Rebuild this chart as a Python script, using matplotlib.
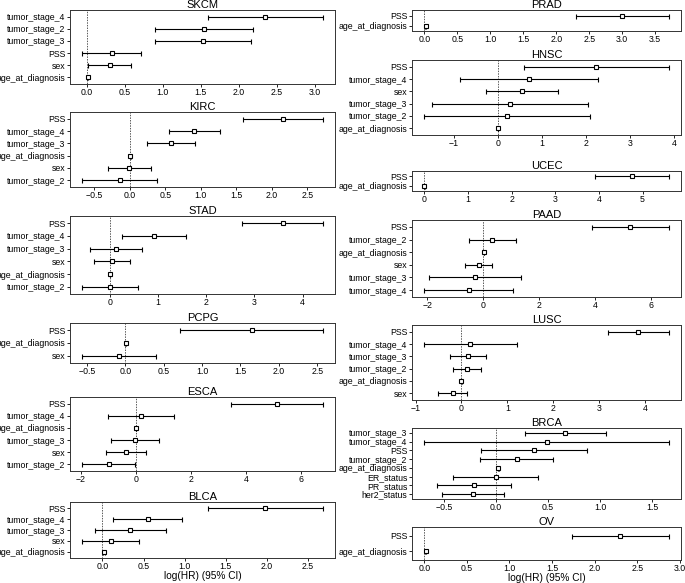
import matplotlib
matplotlib.use("Agg")
import matplotlib.pyplot as plt
from matplotlib.ticker import MultipleLocator

plt.rcParams['font.family'] = ['Liberation Sans', 'DejaVu Sans']

# Cox model coefficients (log HR) and 95% CI half-width, listed top to bottom

skcm_vars = ["tumor_stage_4", "tumor_stage_2", "tumor_stage_3", "PSS", "sex", "age_at_diagnosis"]
skcm_coef = [2.35, 1.545, 1.53, 0.326, 0.30, 0.013]
skcm_err = [0.76, 0.645, 0.63, 0.39, 0.287, 0.006]

kirc_vars = ["PSS", "tumor_stage_4", "tumor_stage_3", "age_at_diagnosis", "sex", "tumor_stage_2"]
kirc_coef = [2.155, 0.91, 0.585, 0.01, -0.005, -0.14]
kirc_err = [0.565, 0.355, 0.335, 0.005, 0.30, 0.53]

stad_vars = ["PSS", "tumor_stage_4", "tumor_stage_3", "sex", "age_at_diagnosis", "tumor_stage_2"]
stad_coef = [3.585, 0.925, 0.135, 0.05, 0.008, 0.005]
stad_err = [0.835, 0.665, 0.535, 0.37, 0.004, 0.58]

pcpg_vars = ["PSS", "age_at_diagnosis", "sex"]
pcpg_coef = [1.645, 0.003, -0.085]
pcpg_err = [0.93, 0.004, 0.48]

esca_vars = ["PSS", "tumor_stage_4", "age_at_diagnosis", "tumor_stage_3", "sex", "tumor_stage_2"]
esca_coef = [5.125, 0.19, 0.01, -0.04, -0.37, -0.99]
esca_err = [1.675, 1.2, 0.006, 0.88, 0.73, 0.97]

blca_vars = ["PSS", "tumor_stage_4", "tumor_stage_3", "sex", "age_at_diagnosis"]
blca_coef = [1.98, 0.552, 0.34, 0.10, 0.02]
blca_err = [0.70, 0.42, 0.428, 0.348, 0.008]

prad_vars = ["PSS", "age_at_diagnosis"]
prad_coef = [3.0, 0.02]
prad_err = [0.705, 0.01]

hnsc_vars = ["PSS", "tumor_stage_4", "sex", "tumor_stage_3", "tumor_stage_2", "age_at_diagnosis"]
hnsc_coef = [2.23, 0.70, 0.55, 0.265, 0.205, -0.005]
hnsc_err = [1.645, 1.56, 0.82, 1.765, 1.885, 0.006]

ucec_vars = ["PSS", "age_at_diagnosis"]
ucec_coef = [4.75, 0.005]
ucec_err = [0.85, 0.006]

paad_vars = ["PSS", "tumor_stage_2", "age_at_diagnosis", "sex", "tumor_stage_3", "tumor_stage_4"]
paad_coef = [5.255, 0.325, 0.02, -0.17, -0.295, -0.52]
paad_err = [1.375, 0.84, 0.006, 0.49, 1.635, 1.59]

lusc_vars = ["PSS", "tumor_stage_4", "tumor_stage_3", "tumor_stage_2", "age_at_diagnosis", "sex"]
lusc_coef = [3.85, 0.195, 0.135, 0.12, 0.0, -0.19]
lusc_err = [0.665, 1.005, 0.39, 0.30, 0.005, 0.31]

brca_vars = ["tumor_stage_3", "tumor_stage_4", "PSS", "tumor_stage_2", "age_at_diagnosis",
             "ER_status", "PR_status", "her2_status"]
brca_coef = [0.665, 0.485, 0.365, 0.2, 0.02, -0.005, -0.215, -0.22]
brca_err = [0.39, 1.175, 0.51, 0.35, 0.005, 0.41, 0.355, 0.30]

ov_vars = ["PSS", "age_at_diagnosis"]
ov_coef = [2.30, 0.016]
ov_err = [0.57, 0.006]

W, H = 685, 583
fig = plt.figure(figsize=(W / 100, H / 100), dpi=100)

# (title, vars, coef, err, [left, top, right, bottom] in px, tick step, xlabel?)
panels = [
    ("SKCM", skcm_vars, skcm_coef, skcm_err, [70, 10, 335, 84], 0.5, False),
    ("KIRC", kirc_vars, kirc_coef, kirc_err, [70, 112, 335, 187], 0.5, False),
    ("STAD", stad_vars, stad_coef, stad_err, [70, 216, 335, 294], 1, False),
    ("PCPG", pcpg_vars, pcpg_coef, pcpg_err, [70, 323, 335, 363], 0.5, False),
    ("ESCA", esca_vars, esca_coef, esca_err, [70, 397, 335, 471], 2, False),
    ("BLCA", blca_vars, blca_coef, blca_err, [70, 502, 335, 558], 0.5, True),
    ("PRAD", prad_vars, prad_coef, prad_err, [412, 10, 681, 31], 0.5, False),
    ("HNSC", hnsc_vars, hnsc_coef, hnsc_err, [412, 60, 681, 135], 1, False),
    ("UCEC", ucec_vars, ucec_coef, ucec_err, [412, 171, 681, 191], 1, False),
    ("PAAD", paad_vars, paad_coef, paad_err, [412, 220, 681, 297], 2, False),
    ("LUSC", lusc_vars, lusc_coef, lusc_err, [412, 325, 681, 400], 1, False),
    ("BRCA", brca_vars, brca_coef, brca_err, [412, 428, 681, 499], 0.5, False),
    ("OV", ov_vars, ov_coef, ov_err, [412, 527, 681, 560], 0.5, True),
]

for title, names, coef, err, box, step, with_label in panels:
    l, t, r, b = box
    ax = fig.add_axes([l / W, 1 - b / H, (r - l) / W, (b - t) / H])
    n = len(names)
    ypos = [n - 1 - i for i in range(n)]
    ax.errorbar(coef, ypos, xerr=err, fmt='s', color='k', markerfacecolor='white',
                markersize=3.2, markeredgewidth=0.8, elinewidth=0.8,
                capsize=1.8, capthick=0.8)
    ax.vlines(0, -2, n + 1, linestyles=(0, (1.5, 1.2)), linewidths=0.7, alpha=0.65, color='k')
    ax.set_ylim(-0.55, n - 0.45)
    ax.set_yticks(ypos)
    ax.set_yticklabels(names)
    ax.xaxis.set_major_locator(MultipleLocator(step))
    ax.tick_params(labelsize=6.3, length=2, width=0.6, pad=1.2)
    for s in ax.spines.values():
        s.set_linewidth(0.7)
        s.set_color('#333333')
    ax.set_title(title, fontsize=8, pad=1.5)
    if with_label:
        ax.set_xlabel("log(HR) (95% CI)", fontsize=7.3, labelpad=0)

fig.savefig("out.png", dpi=100)
